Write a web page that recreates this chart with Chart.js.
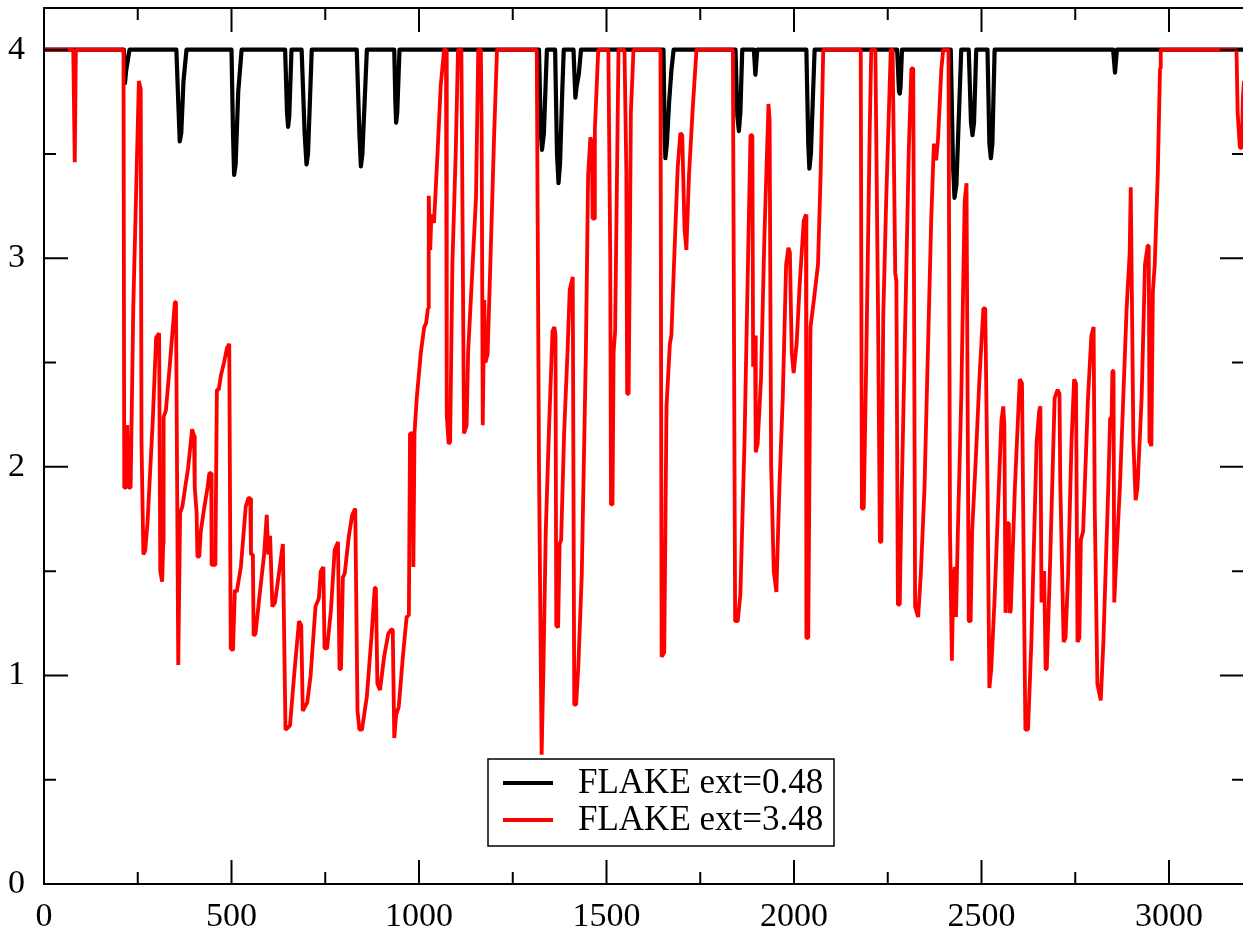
<!DOCTYPE html>
<html>
<head>
<meta charset="utf-8">
<script src="https://cdn.jsdelivr.net/npm/chart.js@4/dist/chart.umd.min.js"></script>
<style>
html,body{margin:0;padding:0;overflow:hidden;background:#fff}
#wrap{width:1244px;height:930px;position:relative}
</style>
</head>
<body>
<div id="wrap"><canvas id="c" width="1244" height="930"></canvas></div>
<script>
const seriesNames = ['FLAKE ext=0.48', 'FLAKE ext=3.48'];

const blackX = [
  0,213,216,219,228,353,358,362,366,372,
  380,500,504,507,511,518,527,643,648,651,
  654,660,687,695,700,704,714,834,841,845,
  849,855,861,934,937,939,942,948,1320,1325,
  1328,1333,1341,1363,1368,1372,1376,1382,1386,1412,
  1417,1420,1423,1426,1432,1652,1655,1657,1661,1667,
  1673,1679,1844,1849,1853,1857,1862,1893,1897,1902,
  2033,2038,2041,2045,2055,2275,2280,2282,2284,2288,
  2418,2424,2428,2433,2440,2446,2466,2472,2476,2480,
  2486,2516,2521,2525,2529,2535,2851,2856,2861,3200
];
const blackY = [
  4,4,3.84,3.90,4,4,3.75,3.56,3.60,3.85,
  4,4,3.60,3.40,3.45,3.80,4,4,3.70,3.63,
  3.68,4,4,3.60,3.45,3.50,4,4,3.60,3.44,
  3.50,3.75,4,4,3.75,3.65,3.70,4,4,3.60,
  3.52,3.60,4,4,3.50,3.36,3.45,3.80,4,4,
  3.77,3.82,3.85,3.88,4,4,3.60,3.48,3.55,3.75,
  3.90,4,4,3.68,3.61,3.70,4,4,3.88,4,
  4,3.55,3.43,3.50,4,4,3.80,3.79,3.82,4,
  4,3.45,3.29,3.35,3.70,4,4,3.65,3.59,3.65,
  4,4,3.55,3.48,3.55,4,4,3.89,4,4
];

const redX = [
  0,78,82,85,212,214,219,222,226,231,
  238,253,258,260,265,270,276,290,299,307,
  310,315,318,319,325,336,349,352,358,363,
  369,378,384,395,400,402,407,409,414,418,
  427,436,441,446,447,457,461,466,472,480,
  488,494,498,504,509,514,525,538,545,550,
  552,557,559,564,574,587,594,598,603,609,
  616,637,644,651,656,667,680,686,690,696,
  702,711,724,733,738,745,748,755,765,775,
  784,788,792,797,802,813,822,830,836,841,
  848,861,873,882,885,889,896,907,918,926,
  930,934,939,946,957,967,973,976,983,985,
  988,994,1005,1014,1019,1024,1026,1030,1033,1040,
  1049,1058,1067,1072,1074,1079,1083,1089,1098,1104,
  1113,1120,1127,1131,1143,1152,1158,1165,1167,1170,
  1174,1177,1183,1192,1200,1208,1314,1320,1327,1332,
  1338,1347,1356,1361,1364,1366,1371,1375,1379,1387,
  1396,1402,1410,1414,1419,1425,1434,1445,1451,1457,
  1461,1463,1467,1469,1478,1505,1510,1512,1516,1519,
  1523,1528,1532,1548,1553,1555,1559,1562,1565,1572,
  1644,1647,1654,1660,1669,1673,1681,1690,1697,1702,
  1708,1713,1720,1730,1740,1837,1843,1850,1857,1868,
  1879,1884,1889,1891,1896,1898,1903,1912,1921,1932,
  1935,1939,1946,1953,1961,1970,1979,1985,1989,1994,
  1999,2007,2015,2026,2032,2033,2038,2044,2053,2064,
  2071,2078,2178,2181,2186,2193,2202,2206,2217,2224,
  2229,2233,2238,2246,2258,2263,2270,2273,2277,2282,
  2286,2295,2306,2313,2318,2323,2331,2338,2348,2357,
  2366,2373,2379,2384,2393,2398,2412,2416,2421,2425,
  2429,2432,2437,2446,2455,2460,2466,2471,2475,2484,
  2495,2505,2510,2516,2521,2526,2535,2544,2553,2558,
  2561,2564,2569,2573,2575,2578,2589,2602,2608,2614,
  2617,2624,2633,2647,2654,2657,2660,2667,2671,2674,
  2682,2695,2703,2708,2710,2719,2724,2731,2740,2747,
  2752,2756,2761,2765,2771,2784,2793,2799,2802,2809,
  2818,2825,2838,2843,2847,2849,2852,2854,2860,2869,
  2878,2887,2895,2898,2902,2905,2911,2916,2927,2936,
  2943,2946,2948,2953,2957,2962,2970,2976,2978,3180,
  3183,3189,3194,3197,3200
];
const redY = [
  4,4,3.46,4,4,1.90,1.90,2.20,1.90,1.90,
  2.76,3.85,3.81,2.12,1.58,1.60,1.73,2.22,2.62,2.64,
  1.50,1.45,1.63,2.24,2.27,2.50,2.79,2.79,1.05,1.78,
  1.81,1.92,1.99,2.18,2.15,1.90,1.78,1.57,1.57,1.69,
  1.80,1.90,1.97,1.97,1.53,1.53,2.37,2.37,2.44,2.50,
  2.57,2.59,1.13,1.12,1.41,1.40,1.52,1.81,1.85,1.85,
  1.58,1.58,1.19,1.20,1.37,1.58,1.77,1.58,1.67,1.33,
  1.35,1.63,0.74,0.75,0.76,1.00,1.26,1.24,0.83,0.85,
  0.87,1.00,1.33,1.37,1.50,1.52,1.13,1.13,1.31,1.60,
  1.64,1.03,1.03,1.47,1.49,1.67,1.77,1.80,0.83,0.74,
  0.74,0.90,1.18,1.42,1.42,0.96,0.93,1.09,1.20,1.22,
  1.22,0.70,0.81,0.85,1.09,1.28,1.29,2.16,2.16,1.52,
  2.16,2.33,2.55,2.67,2.69,2.76,3.30,3.04,3.21,3.17,
  3.49,3.83,4,4,2.25,2.11,2.12,2.97,3.51,4,
  4,2.16,2.20,2.55,2.97,3.29,4,4,3.62,2.20,
  2.80,2.50,2.54,3.08,3.57,4,4,2.00,0.62,1.05,
  1.69,2.20,2.65,2.67,2.63,1.24,1.23,1.63,1.65,2.16,
  2.55,2.85,2.91,0.86,0.86,1.05,1.48,2.55,3.40,3.58,
  3.55,3.19,3.19,3.62,4,4,3.00,1.82,1.82,2.55,
  2.65,3.40,4,4,3.40,2.35,2.35,2.97,3.70,4,
  4,1.09,1.11,2.29,2.59,2.63,3.02,3.44,3.60,3.59,
  3.14,3.04,3.40,3.72,4,4,1.26,1.26,1.39,2.12,
  3.14,3.59,3.59,2.48,2.63,2.07,2.11,2.42,3.10,3.74,
  3.66,2.01,1.50,1.40,1.90,2.33,2.97,3.05,3.03,2.55,
  2.45,2.59,2.87,3.18,3.21,1.18,1.18,2.67,2.80,2.97,
  3.40,4,4,1.80,1.80,2.55,3.62,4,4,2.76,
  1.64,1.64,2.72,3.29,4,4,2.93,2.89,1.34,1.34,
  1.77,2.55,3.51,3.91,3.91,1.33,1.28,1.48,1.90,2.55,
  3.19,3.55,3.47,3.57,3.91,4,4,1.69,1.07,1.48,
  1.52,1.28,1.69,2.33,3.27,3.36,1.26,1.26,1.69,2.01,
  2.44,2.76,2.76,1.90,0.94,1.03,1.37,1.80,2.22,2.29,
  2.20,1.30,1.73,1.73,1.30,1.31,1.90,2.42,2.40,1.26,
  0.74,0.74,1.16,2.12,2.27,2.29,1.35,1.50,1.03,1.03,
  1.48,2.33,2.37,2.35,1.93,1.16,1.18,1.48,2.12,2.42,
  2.40,1.16,1.18,1.65,1.69,2.33,2.63,2.67,1.80,0.96,
  0.88,1.16,1.90,2.23,2.24,2.46,2.46,1.35,1.58,1.90,
  2.33,2.76,3.02,3.34,2.65,2.12,1.84,1.90,2.33,2.97,
  3.06,3.06,2.12,2.10,2.84,2.97,3.40,3.91,4,4,
  3.70,3.53,3.53,3.77,3.85
];

const xMajorTicks = [0, 500, 1000, 1500, 2000, 2500, 3000];
const xMinorTicks = [250, 750, 1250, 1750, 2250, 2750];
const yMajorTicks = [0, 1, 2, 3, 4];
const yMinorTicks = [0.5, 1.5, 2.5, 3.5];

const FONT = '"Liberation Serif", "Times New Roman", serif';

const toPoints = (xs, ys) => xs.map((x, i) => ({ x: x, y: ys[i] }));

const framePlugin = {
  id: 'frame',
  afterDatasetsDraw(chart) {
    const { ctx, chartArea: a, scales: { x, y } } = chart;
    ctx.save();
    ctx.strokeStyle = '#000';
    ctx.lineWidth = 2;
    ctx.lineCap = 'butt';
    ctx.strokeRect(a.left, a.top, a.right - a.left, a.bottom - a.top);
    const maj = 24, mnr = 12;
    ctx.beginPath();
    const xt = (v, len) => {
      const p = x.getPixelForValue(v);
      ctx.moveTo(p, a.bottom); ctx.lineTo(p, a.bottom - len);
      ctx.moveTo(p, a.top); ctx.lineTo(p, a.top + len);
    };
    const yt = (v, len) => {
      const p = y.getPixelForValue(v);
      ctx.moveTo(a.left, p); ctx.lineTo(a.left + len, p);
      ctx.moveTo(a.right, p); ctx.lineTo(a.right - len, p);
    };
    xMajorTicks.forEach(v => xt(v, maj));
    xMinorTicks.forEach(v => xt(v, mnr));
    yMajorTicks.forEach(v => yt(v, maj));
    yMinorTicks.forEach(v => yt(v, mnr));
    ctx.stroke();

    // legend box
    const bx = a.left + 444, by = a.bottom - 125, bw = 346, bh = 87;
    ctx.fillStyle = '#fff';
    ctx.fillRect(bx, by, bw, bh);
    ctx.lineWidth = 1.5;
    ctx.strokeRect(bx, by, bw, bh);
    const rowsY = [by + 24, by + 61];
    ctx.font = '35px ' + FONT;
    ctx.textBaseline = 'middle';
    ctx.textAlign = 'left';
    [0, 1].forEach((di, k) => {
      const ds = chart.data.datasets[di];
      ctx.strokeStyle = ds.borderColor;
      ctx.lineWidth = 4;
      ctx.beginPath();
      ctx.moveTo(bx + 15, rowsY[k]);
      ctx.lineTo(bx + 65, rowsY[k]);
      ctx.stroke();
      ctx.fillStyle = '#000';
      ctx.fillText(ds.label, bx + 90, rowsY[k] + 1);
    });
    ctx.restore();
  }
};

new Chart(document.getElementById('c'), {
  type: 'line',
  data: {
    datasets: [
      {
        label: seriesNames[0],
        data: toPoints(blackX, blackY),
        borderColor: '#000000',
        borderWidth: 4.2,
        pointRadius: 0,
        tension: 0,
        borderJoinStyle: 'round',
        fill: false,
        order: 2
      },
      {
        label: seriesNames[1],
        data: toPoints(redX, redY),
        borderColor: '#ff0000',
        borderWidth: 3.8,
        pointRadius: 0,
        tension: 0,
        borderJoinStyle: 'bevel',
        fill: false,
        order: 1
      }
    ]
  },
  options: {
    responsive: false,
    animation: false,
    events: [],
    layout: { padding: { top: 8, right: 0, left: 0, bottom: 0 } },
    plugins: { legend: { display: false }, tooltip: { enabled: false } },
    scales: {
      x: {
        type: 'linear',
        min: 0,
        max: 3200,
        grid: { display: false },
        border: { display: false },
        afterBuildTicks: s => { s.ticks = xMajorTicks.map(v => ({ value: v })); },
        afterFit: s => { s.height = 46; s.paddingLeft = 0; s.paddingRight = 0; },
        ticks: {
          color: '#000',
          font: { family: FONT, size: 34 },
          padding: 5,
          maxRotation: 0,
          autoSkip: false,
          callback: v => String(v)
        }
      },
      y: {
        type: 'linear',
        min: 0,
        max: 4.2,
        grid: { display: false },
        border: { display: false },
        afterBuildTicks: s => { s.ticks = yMajorTicks.map(v => ({ value: v })); },
        afterFit: s => { s.width = 44; s.paddingTop = 0; s.paddingBottom = 0; },
        ticks: {
          color: '#000',
          font: { family: FONT, size: 34 },
          padding: 11,
          callback: v => String(v)
        }
      }
    }
  },
  plugins: [framePlugin]
});
</script>
</body>
</html>
